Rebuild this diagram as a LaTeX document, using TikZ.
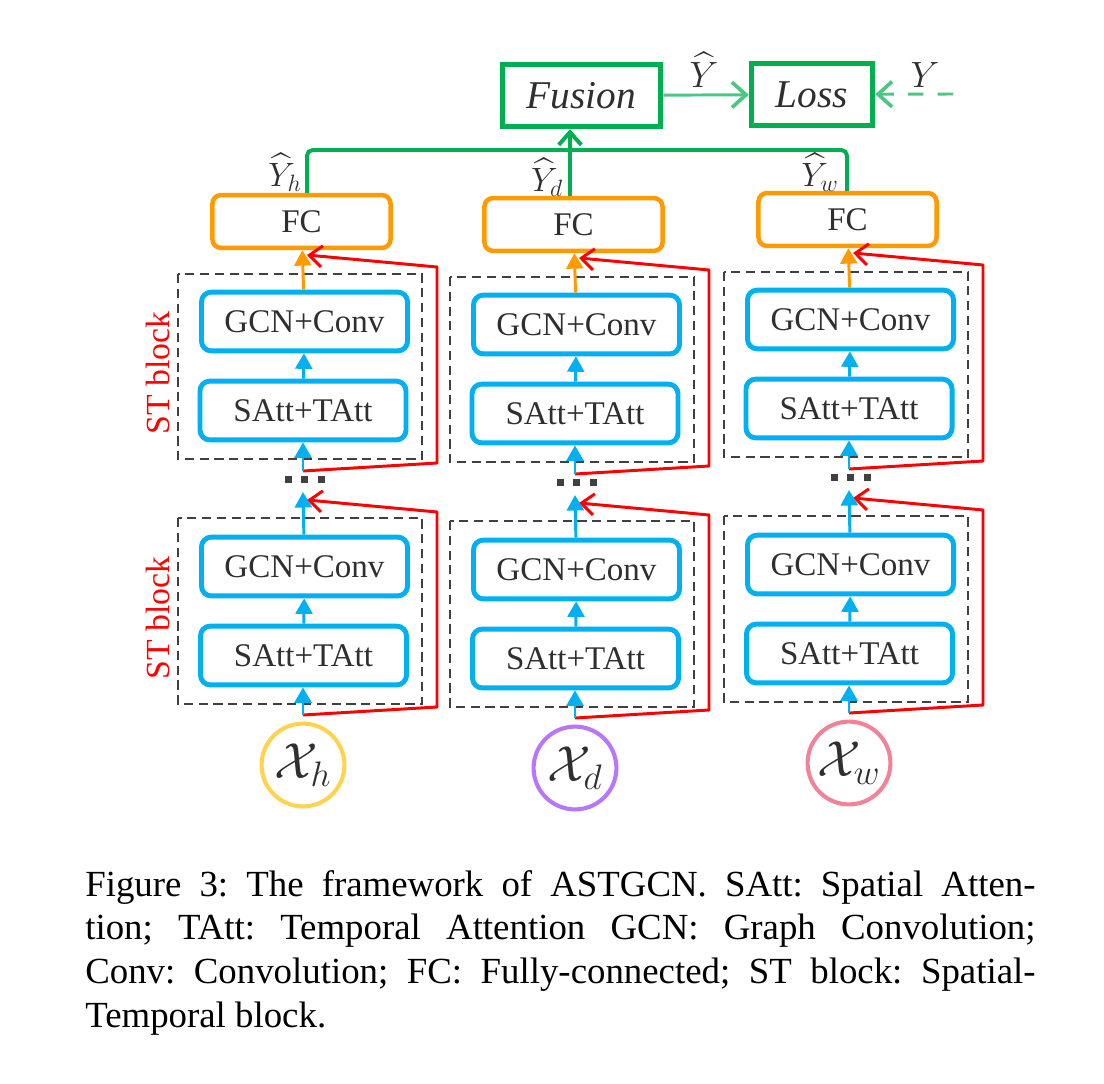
\RequirePackage{fix-cm}
\documentclass[tikz,border=0pt]{standalone}
\usepackage{fontspec}
\setmainfont{Liberation Serif}
\usepackage{amsmath}
\usetikzlibrary{arrows.meta}

\definecolor{boxblue}{HTML}{00B0F0}
\definecolor{fcorange}{HTML}{FF9A00}
\definecolor{treegreen}{HTML}{00B050}
\definecolor{outgreen}{HTML}{4CC783}
\definecolor{framegray}{HTML}{404040}
\definecolor{txtgray}{HTML}{2F2F2F}
\definecolor{ringyellow}{HTML}{FFD34E}
\definecolor{ringpurple}{HTML}{B777FA}
\definecolor{ringpink}{HTML}{F2829A}

\begin{document}
\begin{tikzpicture}[x=0.025cm, y=-0.025cm,
    block/.style={draw=boxblue, line width=3.5pt, rounded corners=7pt, minimum width=5.15cm, minimum height=1.47cm, inner sep=0pt, text=txtgray, font=\fontsize{23.5}{26}\selectfont},
    fcbox/.style={draw=fcorange, line width=3.2pt, rounded corners=6pt, minimum width=4.45cm, minimum height=1.32cm, inner sep=0pt, text=txtgray, font=\fontsize{23.5}{26}\selectfont},
    topbox/.style={draw=treegreen, line width=3.9pt, minimum height=1.55cm, inner sep=0pt, text=txtgray, font=\fontsize{28}{32}\selectfont\itshape},
    ring/.style={circle, line width=2.9pt, minimum size=2.07cm, inner sep=0pt, text=txtgray, font=\fontsize{36}{40}\selectfont},
    stframe/.style={draw=framegray, line width=1.4pt, dash pattern=on 6.5pt off 4pt},
    flow/.style={draw=boxblue, line width=2.1pt, -{Triangle[length=11pt,width=12pt]}},
    fcflow/.style={draw=fcorange, line width=2.1pt, -{Triangle[length=11pt,width=12pt]}},
    skip/.style={draw=red, line width=2.1pt, line join=round, -{Straight Barb[length=9pt,width=15pt,line width=2.1pt]}},
    tree/.style={draw=treegreen, line width=2.8pt},
    outflow/.style={draw=outgreen, line width=2.1pt, -{Straight Barb[length=10pt,width=18pt,line width=2.6pt]}},
    hatlabel/.style={text=txtgray, inner sep=0pt, font=\fontsize{24}{28}\selectfont},
    stlabel/.style={text=red, rotate=90, inner sep=0pt, font=\fontsize{24}{28}\selectfont}]
    \useasboundingbox (0,0) rectangle (1104,1084);

    % Three branches: recent, daily, weekly
    \foreach \c/\cx/\dy/\col in {h/303/0/ringyellow, d/575/3/ringpurple, w/849/-2/ringpink} {
    \begin{scope}[shift={(\cx,\dy)}]
        \node[fcbox] (\c fc) at (-1.5,221.5) {FC};
        \draw[stframe] (-125,274) rectangle (119,459);
        \node[block] (\c gcn2) at (1.5,321.5) {GCN+Conv};
        \node[block] (\c att2) at (0,410.5) {SAtt+TAtt};
        \fill[framegray] (-18.5,476) rectangle (-11.5,483);
        \fill[framegray] (-2,476) rectangle (5,483);
        \fill[framegray] (15,476) rectangle (22,483);
        \draw[stframe] (-125,518) rectangle (119,704);
        \node[block] (\c gcn1) at (1.5,566.5) {GCN+Conv};
        \node[block] (\c att1) at (0.5,655.5) {SAtt+TAtt};
        \node[ring, draw=\col] (\c x) at (0,765) {$\mathcal{X}_\c$};
        \coordinate (\c in1) at (0,715);
        \coordinate (\c out1) at (0,492);
        \coordinate (\c in2) at (0,471);
        \coordinate (\c res1) at (4,500);
        \coordinate (\c res2) at (4,255);
        % residual paths
        \draw[skip] (\c in1) -- (134,707) -- (134,512) -- (\c res1);
        \draw[skip] (\c in2) -- (134,463) -- (134,267) -- (\c res2);
        % data flow
        \draw[flow] (\c in1) -- (\c in1 |- \c att1.south);
        \draw[flow] (\c att1) -- (\c gcn1);
        \draw[flow] (\c gcn1) -- (\c out1);
        \draw[flow] (\c in2) -- (\c in2 |- \c att2.south);
        \draw[flow] (\c att2) -- (\c gcn2);
        \draw[fcflow] (\c gcn2) -- (\c fc);
    \end{scope}
    }

    % ST block labels
    \node[stlabel] (stA) at (158,373) {ST block};
    \node[stlabel] (stB) at (158,618) {ST block};

    % Branch outputs
    \node[hatlabel] (yh) at (285,172) {$\widehat{Y}_h$};
    \node[hatlabel] (yd) at (547,177) {$\widehat{Y}_d$};
    \node[hatlabel] (yw) at (820,172) {$\widehat{Y}_w$};

    % Fusion and loss
    \node[topbox, minimum width=3.95cm] (fusion) at (581.5,95.5) {Fusion};
    \node[topbox, minimum width=3.025cm] (loss) at (812,94.5) {Loss};
    \draw[tree, rounded corners=4pt] (hfc.north -| 307,0) |- (847,150) -- (wfc.north -| 847,0);
    \draw[tree, -{Straight Barb[length=9pt,width=16pt,line width=2.8pt]}] (dfc.north -| 570,0) -- (fusion.south -| 570,0);
    \draw[outflow] (fusion) -- (loss);
    \node[hatlabel, font=\fontsize{26}{30}\selectfont] (yhat) at (704,70) {$\widehat{Y}$};
    \coordinate (ytrue) at (953,94);
    \draw[outflow, dash pattern=on 11pt off 10pt] (ytrue) -- (loss);
    \node[hatlabel, font=\fontsize{26}{30}\selectfont] (ylabel) at (925,75) {$Y$};

    % Caption
    \node[anchor=base west, inner sep=0pt, font=\fontsize{26.2}{31.1}\selectfont] (caption) at (85,896) {\parbox[t]{23.75cm}{\frenchspacing\tolerance=10000\hyphenpenalty=10000 Figure 3: The framework of ASTGCN. SAtt: Spatial Atten-\linebreak tion; TAtt: Temporal Attention GCN: Graph Convolution;\linebreak Conv: Convolution; FC: Fully-connected; ST block: Spatial-\linebreak Temporal block.}};
\end{tikzpicture}
\end{document}
